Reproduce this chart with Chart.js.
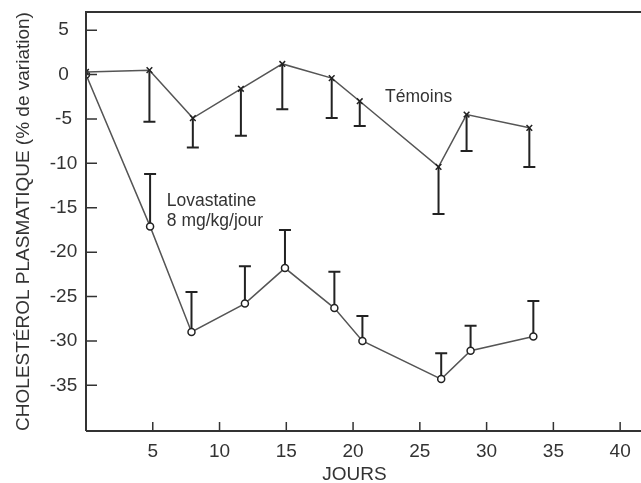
<!DOCTYPE html>
<html>
<head>
<meta charset="utf-8">
<script src="https://cdn.jsdelivr.net/npm/chart.js@4/dist/chart.umd.min.js"></script>
<style>
  html, body { margin: 0; padding: 0; background: #fff; overflow: hidden; }
  #wrap { width: 641px; height: 483px; }
</style>
</head>
<body>
<div id="wrap"><canvas id="myChart"></canvas></div>
<script>
// days and values
const temDays = [0, 4.75, 8.0, 11.6, 14.7, 18.4, 20.5, 26.4, 28.5, 33.2];
const temVals = [0.3, 0.5, -4.9, -1.6, 1.2, -0.4, -3.0, -10.4, -4.5, -6.0];
const temLow  = [null, -5.3, -8.2, -6.9, -3.9, -4.9, -5.8, -15.7, -8.6, -10.4];

const lovDays = [0, 4.8, 7.9, 11.9, 14.9, 18.6, 20.7, 26.6, 28.8, 33.5];
const lovVals = [0, -17.1, -29.0, -25.8, -21.8, -26.3, -30.0, -34.3, -31.1, -29.5];
const lovHigh = [null, -11.2, -24.5, -21.6, -17.5, -22.2, -27.2, -31.4, -28.3, -25.5];

const xTicks = [5, 10, 15, 20, 25, 30, 35, 40];
const yTicks = [5, 0, -5, -10, -15, -20, -25, -30, -35];

const FONT = "'Liberation Sans', Arial, Helvetica, sans-serif";
const INK = '#333';

function pts(xs, ys) {
    return xs.map((x, i) => ({x: x, y: ys[i]}));
}

// error bars (one-sided) drawn from the data through the scales
const errorBars = {
    id: 'errorBars',
    beforeDatasetsDraw(chart) {
        const ctx = chart.ctx, xs = chart.scales.x, ys = chart.scales.y;
        const bars = [[temDays, temVals, temLow], [lovDays, lovVals, lovHigh]];
        ctx.save();
        ctx.strokeStyle = '#222';
        ctx.lineWidth = 2;
        bars.forEach(b => {
            b[0].forEach((d, i) => {
                if (b[2][i] === null) return;
                const px = xs.getPixelForValue(d);
                const y0 = ys.getPixelForValue(b[1][i]);
                const y1 = ys.getPixelForValue(b[2][i]);
                ctx.beginPath();
                ctx.moveTo(px, y0);
                ctx.lineTo(px, y1);
                ctx.moveTo(px - 6, y1);
                ctx.lineTo(px + 6, y1);
                ctx.stroke();
            });
        });
        ctx.restore();
    }
};

// frame, inside ticks, y labels (centred column), axis title and the two labels
const frame = {
    id: 'frame',
    afterDraw(chart) {
        const ctx = chart.ctx, a = chart.chartArea;
        const xs = chart.scales.x, ys = chart.scales.y;
        ctx.save();
        ctx.strokeStyle = INK;
        ctx.lineWidth = 2;
        ctx.beginPath();
        ctx.moveTo(a.left, a.bottom);
        ctx.lineTo(a.left, a.top);
        ctx.lineTo(chart.width, a.top);
        ctx.moveTo(a.left, a.bottom);
        ctx.lineTo(chart.width, a.bottom);
        ctx.stroke();
        ctx.lineWidth = 1.5;
        ctx.beginPath();
        xTicks.forEach(v => {
            const px = xs.getPixelForValue(v);
            ctx.moveTo(px, a.bottom);
            ctx.lineTo(px, a.bottom - 9);
        });
        yTicks.forEach(v => {
            const py = ys.getPixelForValue(v);
            ctx.moveTo(a.left, py);
            ctx.lineTo(a.left + 11, py);
        });
        ctx.stroke();

        ctx.fillStyle = INK;
        ctx.textBaseline = 'middle';
        ctx.font = '19px ' + FONT;
        ctx.textAlign = 'center';
        yTicks.forEach(v => {
            ctx.fillText(String(v), a.left - 22.5, ys.getPixelForValue(v));
        });
        ctx.fillText('JOURS', xs.getPixelForValue(20.1), 475);

        ctx.textAlign = 'left';
        ctx.font = '17.5px ' + FONT;
        ctx.fillText('Témoins', xs.getPixelForValue(22.4), ys.getPixelForValue(-2.5));
        ctx.fillText('Lovastatine', xs.getPixelForValue(6.05), ys.getPixelForValue(-14.3));
        ctx.fillText('8 mg/kg/jour', xs.getPixelForValue(6.05), ys.getPixelForValue(-16.55));
        ctx.restore();
    }
};

const gr_config = {
    type: 'line',
    data: {
        datasets: [{
                label: 'Témoins',
                data: pts(temDays, temVals),
                borderColor: '#555',
                borderWidth: 1.5,
                pointStyle: 'crossRot',
                pointRadius: 4,
                pointBorderColor: '#222',
                pointBorderWidth: 1.5,
                fill: false,
                tension: 0
            },
            {
                label: 'Lovastatine 8 mg/kg/jour',
                data: pts(lovDays, lovVals),
                borderColor: '#555',
                borderWidth: 1.5,
                pointStyle: 'circle',
                pointRadius: 3.5,
                pointBackgroundColor: '#fff',
                pointBorderColor: '#222',
                pointBorderWidth: 1.5,
                fill: false,
                tension: 0
            }
        ]
    },
    options: {
        responsive: true,
        maintainAspectRatio: false,
        animation: false,
        layout: { padding: { top: 12, left: 0, right: 0, bottom: 0 } },
        plugins: {
            legend: { display: false },
            tooltip: { enabled: false }
        },
        scales: {
            x: {
                type: 'linear',
                min: 0,
                max: 41.15,
                grid: { display: false },
                border: { display: false },
                ticks: { color: INK, font: { family: FONT, size: 19 }, padding: 1 },
                afterBuildTicks(s) { s.ticks = xTicks.map(v => ({value: v})); },
                afterFit(s) { s.height = 52; s.paddingLeft = 0; s.paddingRight = 0; }
            },
            y: {
                type: 'linear',
                min: -40.15,
                max: 7.05,
                grid: { display: false },
                border: { display: false },
                ticks: { display: false },
                title: {
                    display: true,
                    text: 'CHOLESTÉROL PLASMATIQUE (% de variation)',
                    color: INK,
                    font: { family: FONT, size: 19 },
                    padding: { top: 12, bottom: 0 }
                },
                afterBuildTicks(s) { s.ticks = yTicks.map(v => ({value: v})); },
                afterFit(s) { s.width = 86; s.paddingTop = 0; s.paddingBottom = 0; }
            }
        }
    },
    plugins: [errorBars, frame]
};

var ctx = document.getElementById('myChart');
var myChart = new Chart(ctx, gr_config);
</script>
</body>
</html>
